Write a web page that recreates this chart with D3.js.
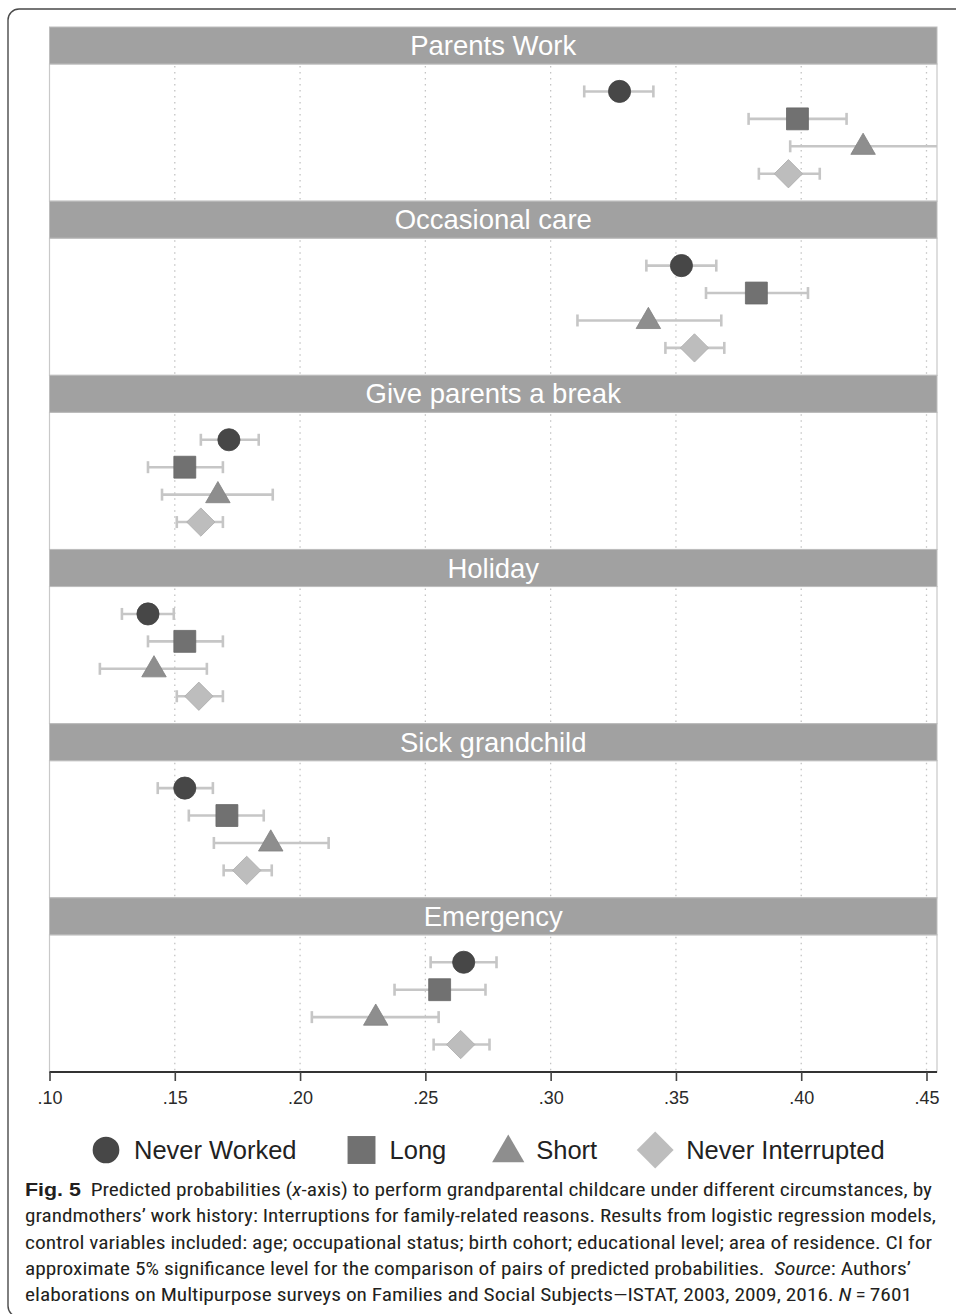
<!DOCTYPE html>
<html>
<head>
<meta charset="utf-8">
<script src="https://cdn.jsdelivr.net/npm/d3@7"></script>
<style>
  html, body { margin: 0; padding: 0; background: #fff; }
  svg { display: block; }
  .cap { white-space: pre; }
</style>
</head>
<body>
<svg id="chart" width="956" height="1314"></svg>
<script>
// Panels (circumstances) and work-history groups
const panels = ["Parents Work", "Occasional care", "Give parents a break", "Holiday", "Sick grandchild", "Emergency"];
const groups = ["Never Worked", "Long", "Short", "Never Interrupted"];

// Predicted probability with CI bounds, one triple [estimate, lower, upper] per panel
const neverWorked = [[0.3275, 0.3134, 0.3410], [0.3522, 0.3382, 0.3661], [0.1716, 0.1604, 0.1835],
                     [0.1393, 0.1289, 0.1496], [0.1540, 0.1432, 0.1652], [0.2653, 0.2521, 0.2784]];
const longInt     = [[0.3985, 0.3790, 0.4181], [0.3821, 0.3620, 0.4027], [0.1540, 0.1393, 0.1692],
                     [0.1540, 0.1393, 0.1692], [0.1708, 0.1556, 0.1855], [0.2557, 0.2377, 0.2740]];
const shortInt    = [[0.4247, 0.3956, 0.4543], [0.3390, 0.3107, 0.3681], [0.1672, 0.1449, 0.1891],
                     [0.1417, 0.1201, 0.1628], [0.1883, 0.1656, 0.2114], [0.2302, 0.2047, 0.2553]];
const neverInt    = [[0.3949, 0.3831, 0.4074], [0.3574, 0.3458, 0.3693], [0.1604, 0.1508, 0.1692],
                     [0.1596, 0.1508, 0.1692], [0.1787, 0.1695, 0.1887], [0.2641, 0.2533, 0.2756]];

const xTicks = [0.10, 0.15, 0.20, 0.25, 0.30, 0.35, 0.40, 0.45];
const xTickLabels = [".10", ".15", ".20", ".25", ".30", ".35", ".40", ".45"];

const seriesValues = [neverWorked, longInt, shortInt, neverInt];
const markerFill = ["#474747", "#717171", "#8e8e8e", "#bdbdbd"];

const captionLines = [
  [{t: "Fig. 5", w: "bold"}, {t: "  Predicted probabilities ("}, {t: "x", s: "italic"}, {t: "-axis) to perform grandparental childcare under different circumstances, by"}],
  [{t: "grandmothers\u2019 work history: Interruptions for family-related reasons. Results from logistic regression models,"}],
  [{t: "control variables included: age; occupational status; birth cohort; educational level; area of residence. CI for"}],
  [{t: "approximate 5% significance level for the comparison of pairs of predicted probabilities.  "}, {t: "Source", s: "italic"}, {t: ": Authors\u2019"}],
  [{t: "elaborations on Multipurpose surveys on Families and Social Subjects\u2014ISTAT, 2003, 2009, 2016. "}, {t: "N", s: "italic"}, {t: "\u2009=\u20097601"}]
];
const captionWidths = [907, 911, 907, 886, 887];

const svg = d3.select("#chart");
const FONT = "'Liberation Sans', Arial, sans-serif";

// outer frame with rounded corner
svg.append("rect")
  .attr("x", 8).attr("y", 9).attr("width", 990).attr("height", 1308)
  .attr("rx", 11)
  .attr("fill", "none").attr("stroke", "#4a4a4a").attr("stroke-width", 1.4);

const plotL = 49.5, plotR = 937, plotT = 27, plotB = 1072;
const x = d3.scaleLinear().domain([0.10, 0.45]).range([49.5, 926.5]);

const band = d3.scaleBand().domain(panels).range([plotT, plotB]).paddingInner(0).paddingOuter(0);
const stripH = 37;
const bodyH = band.bandwidth() - stripH;
const rowY = d3.scalePoint().domain(groups).range([0, bodyH]).padding(1);

const symbolPath = (i, size) => {
  if (i === 0) return d3.symbol(d3.symbolCircle, size)();
  if (i === 1) return d3.symbol(d3.symbolSquare, size)();
  if (i === 2) return d3.symbol(d3.symbolTriangle, size)();
  return d3.symbol(d3.symbolSquare, size)();
};
const symbolRotate = i => (i === 3 ? 45 : 0);
const markerSize = [385, 480, 260, 400];

panels.forEach((p, pi) => {
  const g = svg.append("g").attr("transform", `translate(0,${band(p)})`);

  // panel body
  g.append("rect")
    .attr("x", plotL).attr("y", stripH).attr("width", plotR - plotL).attr("height", bodyH)
    .attr("fill", "#fff").attr("stroke", "#c9c9c9").attr("stroke-width", 1.2);

  // dotted gridlines
  g.selectAll("line.grid").data(xTicks.slice(1)).join("line")
    .attr("class", "grid")
    .attr("x1", d => x(d)).attr("x2", d => x(d))
    .attr("y1", stripH + 2).attr("y2", stripH + bodyH)
    .attr("stroke", "#c4c4c4").attr("stroke-width", 1.3)
    .attr("stroke-dasharray", "1.5,4.5");

  // title strip
  g.append("rect")
    .attr("x", plotL).attr("y", 0).attr("width", plotR - plotL).attr("height", stripH)
    .attr("fill", "#a1a1a1").attr("stroke", "#bdbdbd").attr("stroke-width", 1);
  g.append("text")
    .attr("x", (plotL + plotR) / 2).attr("y", stripH / 2)
    .attr("text-anchor", "middle").attr("dominant-baseline", "central")
    .attr("font-family", FONT).attr("font-size", 27.5)
    .attr("fill", "#fff").text(p);

  const body = g.append("g").attr("transform", `translate(0,${stripH})`);

  groups.forEach((grp, gi) => {
    const v = seriesValues[gi][pi];
    const y = rowY(grp);
    const ci = body.append("g").attr("stroke", "#c6c6c6").attr("stroke-width", 2.6);
    const xr = Math.min(x(v[2]), plotR);
    ci.append("line").attr("x1", x(v[1])).attr("x2", xr).attr("y1", y).attr("y2", y);
    ci.append("line").attr("x1", x(v[1])).attr("x2", x(v[1])).attr("y1", y - 6).attr("y2", y + 6);
    if (x(v[2]) <= plotR) {
      ci.append("line").attr("x1", xr).attr("x2", xr).attr("y1", y - 6).attr("y2", y + 6);
    }
    body.append("path")
      .attr("d", symbolPath(gi, markerSize[gi]))
      .attr("transform", `translate(${x(v[0])},${y + (gi === 2 ? 1 : 0)}) rotate(${symbolRotate(gi)})`)
      .attr("fill", markerFill[gi])
      .attr("stroke", d3.color(markerFill[gi]).darker(0.25)).attr("stroke-width", 0.8);
  });
});

// x axis
const axis = d3.axisBottom(x).tickValues(xTicks)
  .tickFormat((d, i) => xTickLabels[i]).tickSize(9).tickSizeOuter(0).tickPadding(10);
const ax = svg.append("g").attr("transform", `translate(0,${plotB})`).call(axis);
ax.select(".domain").attr("stroke", "#333").attr("stroke-width", 2)
  .attr("d", `M${plotL},0H${plotR}`);
ax.selectAll(".tick line").attr("stroke", "#444").attr("stroke-width", 1.6);
ax.selectAll(".tick text").attr("font-family", FONT).attr("font-size", 18).attr("fill", "#2a2a2a");

// legend
const legend = svg.append("g").attr("transform", "translate(0,1150)");
let cursor = 92;
const legendGap = [51, 48, 41];
groups.forEach((grp, gi) => {
  const sizes = [560, 780, 450, 680];
  const w = gi === 3 ? 34 : 28;
  legend.append("path")
    .attr("d", symbolPath(gi, sizes[gi]))
    .attr("transform", `translate(${cursor + w / 2},${gi === 2 ? 3 : 0}) rotate(${symbolRotate(gi)})`)
    .attr("fill", markerFill[gi]);
  const t = legend.append("text")
    .attr("x", cursor + w + 14).attr("y", 9)
    .attr("font-family", FONT).attr("font-size", 25.5).attr("fill", "#222")
    .text(grp);
  const tw = t.node().getComputedTextLength();
  cursor = cursor + w + 14 + tw + (legendGap[gi] || 0);
});

// caption
const capFont = "'Liberation Sans Narrow', 'Roboto Condensed', 'Liberation Sans', Arial, sans-serif";
captionLines.forEach((line, li) => {
  const t = svg.append("text").attr("class", "cap")
    .attr("x", 25).attr("y", 1196 + li * 26.3)
    .attr("font-family", capFont).attr("font-size", 18).attr("fill", "#231f20")
    .attr("textLength", captionWidths[li]).attr("lengthAdjust", "spacingAndGlyphs");
  line.forEach(seg => {
    t.append("tspan")
      .attr("font-weight", seg.w || "normal")
      .attr("font-style", seg.s || "normal")
      .attr("font-family", seg.w ? "'Liberation Sans', Arial, sans-serif" : null)
      .text(seg.t);
  });
});
</script>
</body>
</html>
